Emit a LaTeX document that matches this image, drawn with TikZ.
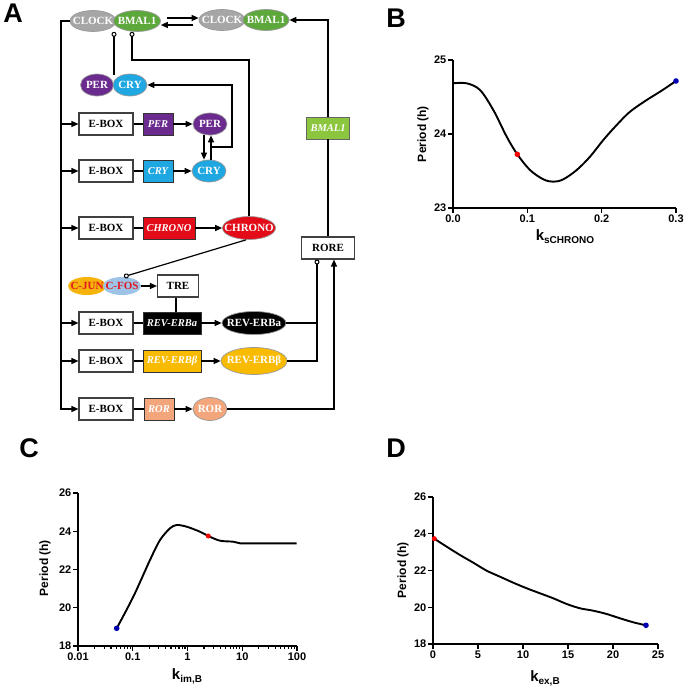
\documentclass[tikz,border=0pt]{standalone}
\usepackage{fontspec}
\setmainfont{Liberation Serif}
\newfontfamily\arial{Liberation Sans}
\usetikzlibrary{shapes.geometric,arrows.meta}
\definecolor{cgray}{HTML}{A6A6A6}
\definecolor{cgreen}{HTML}{5DA83B}
\definecolor{cpurple}{HTML}{6A2A8E}
\definecolor{ccyan}{HTML}{1EA7E1}
\definecolor{cred}{HTML}{E30B17}
\definecolor{cyellow}{HTML}{F8BB00}
\definecolor{csalmon}{HTML}{F3A57C}
\definecolor{clgreen}{HTML}{8CC63E}
\definecolor{cjun}{HTML}{F5B30B}
\definecolor{cfos}{HTML}{9DC3E6}
\definecolor{ctxtred}{HTML}{E4161F}
\newcommand{\mk}[1]{\makebox[0pt][c]{#1}}
\begin{document}
\begin{tikzpicture}[x=1pt,y=-1pt,
  ell/.style={ellipse,inner sep=0pt,line width=0.7pt,draw=black!40,text=white,
    font=\bfseries\fontsize{11}{11}\selectfont},
  gbox/.style={rectangle,inner sep=0pt,line width=0.9pt,draw=black!80,text=white,
    minimum height=22pt,font=\bfseries\itshape\fontsize{10.5}{11}\selectfont},
  wbox/.style={rectangle,inner sep=0pt,line width=1.1pt,draw=black!75,fill=white,
    minimum height=22pt,font=\bfseries\fontsize{11}{11}\selectfont},
  arr/.style={-{Triangle[length=7pt,width=6pt]},line width=1.2pt},
  inh/.style={-{Circle[open,length=5pt,width=5pt,line width=1pt]},line width=1.2pt},
  ln/.style={line width=1.2pt},
  axisline/.style={line width=1.6pt},
  tick/.style={line width=1.4pt},
  curve/.style={line width=1.9pt},
  ticklab/.style={font=\arial\bfseries\fontsize{11}{11}\selectfont,inner sep=1pt},
  ylab/.style={font=\arial\bfseries\fontsize{12}{12}\selectfont,rotate=90},
  panel/.style={font=\arial\bfseries\fontsize{27}{27}\selectfont}
]
\useasboundingbox (0,0) rectangle (685,688);

% ---------------- Panel A ----------------
\node[panel] (lA) at (13,13) {A};

\node[ell,fill=cgray,minimum width=46pt,minimum height=21pt] (clock1) at (93,21) {\mk{CLOCK}};
\node[ell,fill=cgreen,minimum width=47pt,minimum height=21pt] (bmal1) at (137,21) {\mk{BMAL1}};
\node[ell,fill=cgray,minimum width=46pt,minimum height=21pt] (clock2) at (222,20) {\mk{CLOCK}};
\node[ell,fill=cgreen,minimum width=46pt,minimum height=21pt] (bmal2) at (266,20) {\mk{BMAL1}};

\node[ell,fill=cpurple,minimum width=33pt,minimum height=22pt] (perc) at (97,85) {\mk{PER}};
\node[ell,fill=ccyan,minimum width=34pt,minimum height=22pt] (cryc) at (130,85) {\mk{CRY}};

% E-boxes
\node[wbox,minimum width=54pt] (eb1) at (106,124) {\mk{E-BOX}};
\node[wbox,minimum width=54pt] (eb2) at (106,171) {\mk{E-BOX}};
\node[wbox,minimum width=54pt] (eb3) at (106,228) {\mk{E-BOX}};
\node[wbox,minimum width=54pt] (eb4) at (106,323) {\mk{E-BOX}};
\node[wbox,minimum width=54pt] (eb5) at (106,361) {\mk{E-BOX}};
\node[wbox,minimum width=54pt] (eb6) at (106,409) {\mk{E-BOX}};

% genes
\node[gbox,fill=cpurple,minimum width=30pt] (g1) at (158,124) {\mk{PER}};
\node[gbox,fill=ccyan,minimum width=30pt] (g2) at (158,171) {\mk{CRY}};
\node[gbox,fill=cred,minimum width=52pt] (g3) at (169,228) {\mk{CHRONO}};
\node[gbox,fill=black,minimum width=58pt] (g4) at (172,323) {\mk{REV-ERBa}};
\node[gbox,fill=cyellow,minimum width=58pt] (g5) at (172,361) {\mk{REV-ERBβ}};
\node[gbox,fill=csalmon,minimum width=30pt] (g6) at (159,409) {\mk{ROR}};

% proteins
\node[ell,fill=cpurple,minimum width=34pt,minimum height=22pt] (p1) at (210,124) {\mk{PER}};
\node[ell,fill=ccyan,minimum width=34pt,minimum height=22pt] (p2) at (209,171) {\mk{CRY}};
\node[ell,fill=cred,minimum width=53pt,minimum height=23pt] (p3) at (249,228) {\mk{CHRONO}};
\node[ell,fill=black,minimum width=64pt,minimum height=23pt] (p4) at (254,323) {\mk{REV-ERBa}};
\node[ell,fill=cyellow,minimum width=66pt,minimum height=27pt] (p5) at (254,361) {\mk{REV-ERBβ}};
\node[ell,fill=csalmon,minimum width=34pt,minimum height=23pt] (p6) at (210,409) {\mk{ROR}};

% others
\node[ell,fill=cjun,draw=none,text=ctxtred,minimum width=38pt,minimum height=18pt] (cjun) at (87,286) {\mk{C-JUN}};
\node[ell,fill=cfos,draw=none,text=ctxtred,minimum width=38pt,minimum height=18pt] (cfos) at (122,286) {\mk{C-FOS}};
\node[wbox,minimum width=41pt] (tre) at (178,286) {\mk{TRE}};
\node[wbox,minimum width=53pt] (rore) at (328,248) {\mk{RORE}};
\node[gbox,fill=clgreen,draw=black!60,minimum width=43pt] (bm) at (328,128) {\mk{BMAL1}};

% connectors
\draw[arr] (167,18) -- (clock2.west |- 0,18);
\draw[arr] (193,25) -- (bmal1.east |- 0,25);

\coordinate (L) at (61,21);
\draw[arr] (clock1.west) -- (L) |- (eb6.west);
\foreach \e in {eb1,eb2,eb3,eb4,eb5}{\draw[arr] (L |- \e.west) -- (\e.west);}

\foreach \e/\g in {eb1/g1,eb2/g2,eb3/g3,eb4/g4,eb5/g5,eb6/g6}{\draw[ln] (\e.east) -- (\g.west);}
\foreach \g/\p in {g1/p1,g2/p2,g3/p3,g4/p4,g5/p5,g6/p6}{\draw[arr] (\g.east) -- (\p.west);}

\draw[arr] ([xshift=-6pt]p1.south) -- ([xshift=-5pt]p2.north);
\draw[arr] ([xshift=2pt]p2.north) -- ([xshift=1pt]p1.south);
\coordinate (j) at (211,147);
\coordinate (r1) at (232,85);
\draw[arr] (j) -| (r1) -- (cryc.east);

\coordinate (cx) at (114,75);
\draw[inh] (cx) -- (cx |- clock1.south);
\coordinate (k1) at (132,60);
\draw[inh] (p3.north) |- (k1) -- (k1 |- bmal1.south);

\draw[arr] (bm.north) |- (bmal2.east);
\draw[ln] (rore.north) -- (bm.south);

\draw[inh] ([xshift=-3pt]p3.south) -- ([xshift=2pt]cfos.north);
\draw[arr] (cfos.east) -- (tre.west);
\draw[ln] ([xshift=-2pt]tre.south) -- ([xshift=-2pt]tre.south |- g4.north);

\coordinate (v) at ([xshift=-11pt]rore.south);
\draw[inh] (p4.east) -| (v);
\draw[ln] (p5.east) -| (v |- p4.east);
\draw[arr] (p6.east) -| ([xshift=6pt]rore.south);

% ---------------- Panel B ----------------
\node[panel] (lB) at (396,18) {B};
\draw[axisline] (453,60) -- (453,208) -- (676,208);
\foreach \yy/\t in {60/25,134/24,208/23}{
  \draw[tick] (448,\yy) -- (453,\yy);
  \node[ticklab,anchor=east] at (447.5,\yy) {\t};}
\foreach \xx/\t in {453/0.0,527.3/0.1,601.7/0.2,676/0.3}{
  \draw[tick] (\xx,208) -- (\xx,213);
  \node[ticklab,anchor=north] at (\xx,213.5) {\t};}
\node[ylab] at (423,134) {Period (h)};
\node[font=\arial\bfseries] at (565,237) {\fontsize{15}{15}\selectfont k\raisebox{-3pt}{\fontsize{10}{10}\selectfont sCHRONO}};
\draw[curve] plot[smooth,tension=0.55] coordinates {(453,83.3) (466.7,83.3) (480,90) (493.3,110) (506.7,136.7) (517.3,154.3) (530,170) (543.3,179.3) (553.3,181.7) (563.3,179.3) (576.7,170) (590,156.7) (603.3,140) (616.7,125) (630,111.7) (646.7,100) (660,91.7) (676,81)};
\fill[red] (517.3,154.3) circle (2.8);
\fill[blue!70!black] (676,81) circle (2.8);

% ---------------- Panel C ----------------
\node[panel] (lC) at (29,448) {C};
\draw[axisline] (78,493) -- (78,646) -- (297,646);
\foreach \yy/\t in {493/26,531.25/24,569.5/22,607.75/20,646/18}{
  \draw[tick] (73,\yy) -- (78,\yy);
  \node[ticklab,anchor=east] at (72.5,\yy) {\t};}
\foreach \i/\t in {0/0.01,1/0.1,2/1,3/10,4/100}{
  \draw[tick] ({78+54.75*\i},646) -- ++(0,5);
  \node[ticklab,anchor=north] at ({78+54.75*\i},652) {\t};}
\foreach \d in {0,1,2,3}{\foreach \k in {2,...,9}{
  \draw[tick,line width=1.1pt] ({78+54.75*(\d+log10(\k))},646) -- ++(0,3);}}
\node[ylab] at (45,568) {Period (h)};
\node[font=\arial\bfseries] at (187,676) {\fontsize{15}{15}\selectfont k\raisebox{-3pt}{\fontsize{10}{10}\selectfont im,B}};
\draw[curve] plot[smooth,tension=0.5] coordinates {(116.7,628.3) (133.3,596.7) (150,560) (160,540) (170,528.3) (176.7,525) (186.7,526.7) (200,531.7) (208.3,536) (220,540.7) (233.3,541.7) (240,543.3) (253.3,543.3) (296.7,543.3)};
\fill[blue!70!black] (116.7,628.3) circle (2.8);
\fill[red] (208.3,536) circle (2.5);

% ---------------- Panel D ----------------
\node[panel] (lD) at (396,448) {D};
\draw[axisline] (433,497) -- (433,644) -- (658,644);
\foreach \yy/\t in {497/26,533.75/24,570.5/22,607.25/20,644/18}{
  \draw[tick] (428,\yy) -- (433,\yy);
  \node[ticklab,anchor=east] at (427.5,\yy) {\t};}
\foreach \i/\t in {0/0,1/5,2/10,3/15,4/20,5/25}{
  \draw[tick] ({433+45*\i},644) -- ++(0,5);
  \node[ticklab,anchor=north] at ({433+45*\i},650) {\t};}
\node[ylab] at (403,570) {Period (h)};
\node[font=\arial\bfseries] at (545,678) {\fontsize{15}{15}\selectfont k\raisebox{-3pt}{\fontsize{10}{10}\selectfont ex,B}};
\draw[curve] plot[smooth,tension=0.5] coordinates {(434.3,538.7) (446.7,546.7) (460,555) (473.3,562.7) (486.7,570.7) (500,576.7) (513.3,582.7) (526.7,588.3) (540,593.3) (553.3,598.3) (566.7,604) (580,608.3) (593.3,610.7) (606.7,614) (620,618.3) (633.3,622.3) (646,625.3)};
\fill[red] (434.3,538.7) circle (2.5);
\fill[blue!70!black] (646,625.3) circle (2.8);
\end{tikzpicture}
\end{document}
